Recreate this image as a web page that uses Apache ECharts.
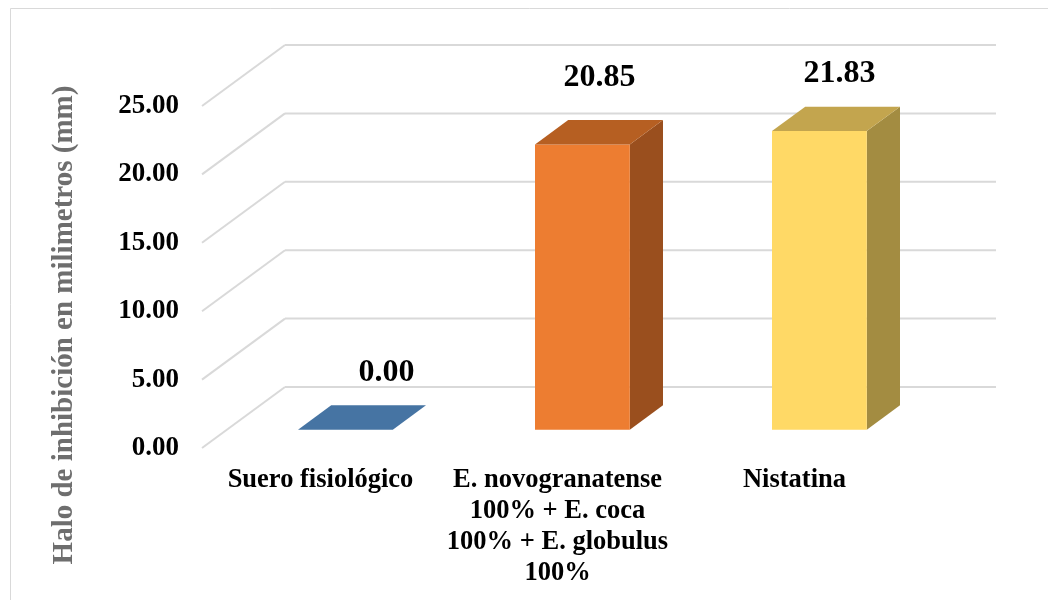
<!DOCTYPE html>
<html>
<head>
<meta charset="utf-8">
<script src="https://cdn.jsdelivr.net/npm/echarts@6/dist/echarts.min.js"></script>
<style>
  html, body { margin: 0; padding: 0; background: #fff; }
  #chart { width: 1048px; height: 600px; }
</style>
</head>
<body>
<div id="chart"></div>
<script>
// Inhibition halo per treatment (mm)
const categories = [
  'Suero fisiológico',
  'E. novogranatense\n100% + E. coca\n100% + E. globulus\n100%',
  'Nistatina'
];
const haloValues = [0.00, 20.85, 21.83];
const yTicks = [0, 5, 10, 15, 20, 25];
const axisTitle = 'Halo de inhibición en milimetros (mm)';

// Face colours per bar: front, top, side
const barColors = [
  { front: '#5B9BD5', top: '#4674A3', side: '#3F6A97' },
  { front: '#ED7D31', top: '#B65F22', side: '#9A4F1E' },
  { front: '#FFD966', top: '#C3A54E', side: '#A38C41' }
];
// Nudges for the value labels, relative to the top face of each bar
const labelShift = [[41, -57], [17, -67], [20, -57]];

// Oblique projection of the floor depth (pixels, front plane -> back wall)
const DEPTH_X = 83;
const DEPTH_Y = -61;
const BAR_FRONT = 0.3;   // fraction of depth where the bar front face sits
const BAR_BACK = 0.7;
const BAR_WIDTH = 0.4;   // fraction of a category band

const FONT = '"Liberation Serif", "Times New Roman", serif';

const chart = echarts.init(document.getElementById('chart'), null, { renderer: 'canvas' });

function renderGrid(params, api) {
  const v = api.value(1);
  const cs = params.coordSys;
  const y = api.coord([0, v])[1];
  const x0 = cs.x;
  const style = { stroke: '#D9D9D9', lineWidth: 2 };
  return {
    type: 'group',
    children: [
      { type: 'line', shape: { x1: x0, y1: y, x2: x0 + DEPTH_X, y2: y + DEPTH_Y }, style },
      { type: 'line', shape: { x1: x0 + DEPTH_X, y1: y + DEPTH_Y, x2: x0 + cs.width + DEPTH_X, y2: y + DEPTH_Y }, style }
    ]
  };
}

function renderBar(params, api) {
  const i = api.value(0);
  const v = api.value(1);
  const base = api.coord([i, 0]);
  const top = api.coord([i, v]);
  const band = api.size([1, 0])[0];
  const w = band * BAR_WIDTH;
  const fx = DEPTH_X * BAR_FRONT, fy = DEPTH_Y * BAR_FRONT;
  const dx = DEPTH_X * (BAR_BACK - BAR_FRONT), dy = DEPTH_Y * (BAR_BACK - BAR_FRONT);
  const x0 = base[0] - w / 2 + fx;
  const x1 = x0 + w;
  const yb = base[1] + fy;
  const yt = top[1] + fy;
  const c = barColors[i];
  const shift = labelShift[i];
  const children = [];
  if (yb - yt > 0.5) {
    children.push({
      type: 'polygon',
      shape: { points: [[x1, yt], [x1 + dx, yt + dy], [x1 + dx, yb + dy], [x1, yb]] },
      style: { fill: c.side }
    });
    children.push({
      type: 'rect',
      shape: { x: x0, y: yt, width: w, height: yb - yt },
      style: { fill: c.front }
    });
  }
  children.push({
    type: 'polygon',
    shape: { points: [[x0, yt], [x1, yt], [x1 + dx, yt + dy], [x0 + dx, yt + dy]] },
    style: { fill: c.top }
  });
  children.push({
    type: 'text',
    x: base[0] + fx + shift[0],
    y: yt + shift[1],
    style: {
      text: v.toFixed(2),
      fill: '#000',
      font: 'bold 32px ' + FONT,
      align: 'center',
      verticalAlign: 'middle'
    }
  });
  return { type: 'group', children };
}

chart.setOption({
  backgroundColor: '#fff',
  animation: false,
  grid: { left: 202, right: 135, top: 106, bottom: 152 },
  xAxis: {
    type: 'category',
    data: categories,
    axisLine: { show: false },
    axisTick: { show: false },
    splitLine: { show: false },
    axisLabel: {
      interval: 0,
      margin: 17,
      color: '#000',
      fontFamily: FONT,
      fontWeight: 'bold',
      fontSize: 26.5,
      lineHeight: 31,
      align: 'center'
    }
  },
  yAxis: {
    type: 'value',
    min: 0,
    max: 25,
    interval: 5,
    axisLine: { show: false },
    axisTick: { show: false },
    splitLine: { show: false },
    axisLabel: {
      margin: 23,
      color: '#000',
      fontFamily: FONT,
      fontWeight: 'bold',
      fontSize: 27,
      formatter: v => v.toFixed(2)
    }
  },
  graphic: [
    {
      type: 'rect',
      shape: { x: 10.5, y: 8.5, width: 1200, height: 800 },
      style: { fill: 'none', stroke: '#D9D9D9', lineWidth: 1 },
      silent: true
    },
    {
      type: 'text',
      x: 65,
      y: 325,
      rotation: Math.PI / 2,
      style: {
        text: axisTitle,
        fill: '#6E6E6E',
        font: 'bold 29px ' + FONT,
        align: 'center',
        verticalAlign: 'middle'
      }
    }
  ],
  series: [
    {
      type: 'custom',
      renderItem: renderGrid,
      data: yTicks.map(t => [0, t]),
      z: 1,
      silent: true
    },
    {
      type: 'custom',
      renderItem: renderBar,
      data: haloValues.map((v, i) => [i, v]),
      z: 2
    }
  ]
});
</script>
</body>
</html>
